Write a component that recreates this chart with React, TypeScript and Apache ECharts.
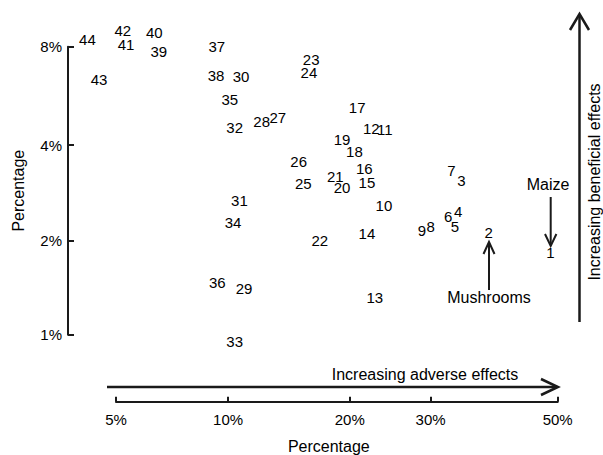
import React, { useEffect, useRef } from "react";
import * as echarts from "echarts";

// Study numbers, adverse-effect percentage (x) and beneficial-effect percentage (y)
const ids = [
  1, 2, 3, 4, 5, 6, 7, 8, 9, 10, 11, 12, 13, 14, 15, 16, 17, 18, 19, 20, 21, 22,
  23, 24, 25, 26, 27, 28, 29, 30, 31, 32, 33, 34, 35, 36, 37, 38, 39, 40, 41, 42,
  43, 44,
];
const adversePct = [
  48.8, 38.7, 34.5, 34.0, 33.5, 32.5, 33.0, 30.0, 28.8, 23.9, 24.0, 22.4, 22.8,
  21.9, 21.9, 21.6, 20.8, 20.5, 19.2, 19.2, 18.5, 17.0, 16.2, 16.0, 15.5, 15.1,
  13.4, 12.2, 11.0, 10.8, 10.7, 10.4, 10.4, 10.3, 10.1, 9.37, 9.34, 9.3, 6.54,
  6.36, 5.33, 5.22, 4.49, 4.17,
];
const beneficialPct = [
  1.83, 2.13, 3.09, 2.47, 2.21, 2.38, 3.34, 2.21, 2.16, 2.59, 4.46, 4.51, 1.32,
  2.11, 3.05, 3.39, 5.22, 3.83, 4.15, 2.94, 3.19, 2.0, 7.3, 6.7, 3.04, 3.55,
  4.87, 4.73, 1.41, 6.49, 2.68, 4.54, 0.95, 2.28, 5.54, 1.47, 8.0, 6.54, 7.73,
  8.83, 8.1, 8.93, 6.35, 8.42,
];
const xTicks = [5, 10, 20, 30, 50];
const yTicks = [1, 2, 4, 8];

const logit = (pct: number) => {
  const p = pct / 100;
  return Math.log(p / (1 - p));
};
const fromLogit = (v: number) => 100 / (1 + Math.exp(-v));
const nearestTick = (ticks: number[], v: number) => {
  const p = fromLogit(v);
  let best = ticks[0];
  ticks.forEach((t) => {
    if (Math.abs(t - p) < Math.abs(best - p)) best = t;
  });
  return best + "%";
};

const FONT = "Liberation Sans, Arial, Helvetica, sans-serif";
const INK = "#000000";
const LINE = "#1a1a1a";

export default function App() {
  const ref = useRef<HTMLDivElement>(null);
  useEffect(() => {
    if (!ref.current) return;
    const chart = echarts.init(ref.current, undefined, { renderer: "svg" });
    const data = ids.map((id, i) => [logit(adversePct[i]), logit(beneficialPct[i]), id]);
    const axisLine = { show: true, onZero: false, lineStyle: { color: LINE, width: 2 } };
    const tickBase = { show: true, inside: true, length: 5, lineStyle: { color: LINE, width: 2 } };
    chart.setOption({
      animation: false,
      backgroundColor: "#ffffff",
      textStyle: { fontFamily: FONT },
      grid: { left: 116, right: 45.3, top: 46.7, bottom: 120.3, outerBoundsMode: "none", containLabel: false },
      xAxis: {
        type: "value",
        position: "bottom",
        offset: 67,
        min: logit(xTicks[0]),
        max: logit(xTicks[xTicks.length - 1]),
        splitLine: { show: false },
        axisLine,
        axisTick: { ...tickBase, customValues: xTicks.map(logit) },
        axisLabel: {
          customValues: xTicks.map(logit),
          formatter: (v: number) => nearestTick(xTicks, v),
          color: INK,
          fontSize: 15,
          fontFamily: FONT,
          margin: 10,
        },
        name: "Percentage",
        nameLocation: "middle",
        nameGap: 37,
        nameTextStyle: { fontSize: 16, color: INK, fontFamily: FONT, padding: [0, 16, 0, 0] },
      },
      yAxis: {
        type: "value",
        position: "left",
        offset: 48,
        min: logit(yTicks[0]),
        max: logit(yTicks[yTicks.length - 1]),
        splitLine: { show: false },
        axisLine,
        axisTick: { ...tickBase, length: 6, customValues: yTicks.map(logit) },
        axisLabel: {
          customValues: yTicks.map(logit),
          formatter: (v: number) => nearestTick(yTicks, v),
          color: INK,
          fontSize: 15,
          fontFamily: FONT,
          margin: 6,
        },
        name: "Percentage",
        nameLocation: "middle",
        nameGap: 42,
        nameTextStyle: { fontSize: 16, color: INK, fontFamily: FONT },
      },
      series: [
        {
          type: "scatter",
          clip: false,
          symbolSize: 0,
          itemStyle: { color: INK, opacity: 1 },
          data,
          label: {
            show: true,
            position: "inside",
            formatter: (p: any) => String(p.value[2]),
            color: INK,
            opacity: 1,
            textBorderWidth: 0,
            textBorderColor: "transparent",
            fontSize: 15,
            fontFamily: FONT,
          },
        },
      ],
      graphic: [
        // vertical "beneficial" arrow
        { type: "line", shape: { x1: 579.5, y1: 14, x2: 579.5, y2: 322 }, style: { stroke: LINE, lineWidth: 2.5 } },
        { type: "polyline", shape: { points: [[570, 30], [579.5, 14], [589, 30]] }, style: { stroke: LINE, lineWidth: 2.5, fill: null } },
        {
          type: "text",
          x: 594,
          y: 182,
          rotation: Math.PI / 2,
          style: { text: "Increasing beneficial effects", fontSize: 16, fontFamily: FONT, fill: INK, align: "center", verticalAlign: "middle" },
        },
        // horizontal "adverse" arrow
        { type: "line", shape: { x1: 107, y1: 387, x2: 557, y2: 387 }, style: { stroke: LINE, lineWidth: 2.5 } },
        { type: "polyline", shape: { points: [[541, 379], [558, 387], [541, 395]] }, style: { stroke: LINE, lineWidth: 2.5, fill: null } },
        {
          type: "text",
          x: 425,
          y: 374,
          style: { text: "Increasing adverse effects", fontSize: 16, fontFamily: FONT, fill: INK, align: "center", verticalAlign: "middle" },
        },
        // Maize annotation
        { type: "text", x: 548, y: 184, style: { text: "Maize", fontSize: 16, fontFamily: FONT, fill: INK, align: "center", verticalAlign: "middle" } },
        { type: "line", shape: { x1: 550.7, y1: 197, x2: 550.7, y2: 245 }, style: { stroke: LINE, lineWidth: 2 } },
        { type: "polyline", shape: { points: [[545, 234], [550.7, 246], [556.4, 234]] }, style: { stroke: LINE, lineWidth: 2, fill: null } },
        // Mushrooms annotation
        { type: "text", x: 489, y: 297, style: { text: "Mushrooms", fontSize: 16, fontFamily: FONT, fill: INK, align: "center", verticalAlign: "middle" } },
        { type: "line", shape: { x1: 489, y1: 290, x2: 489, y2: 243 }, style: { stroke: LINE, lineWidth: 2 } },
        { type: "polyline", shape: { points: [[483.5, 254], [489, 242], [494.5, 254]] }, style: { stroke: LINE, lineWidth: 2, fill: null } },
      ],
    });
    return () => chart.dispose();
  }, []);
  return <div ref={ref} style={{ position: "absolute", left: 0, top: 0, width: 603, height: 455 }} />;
}
